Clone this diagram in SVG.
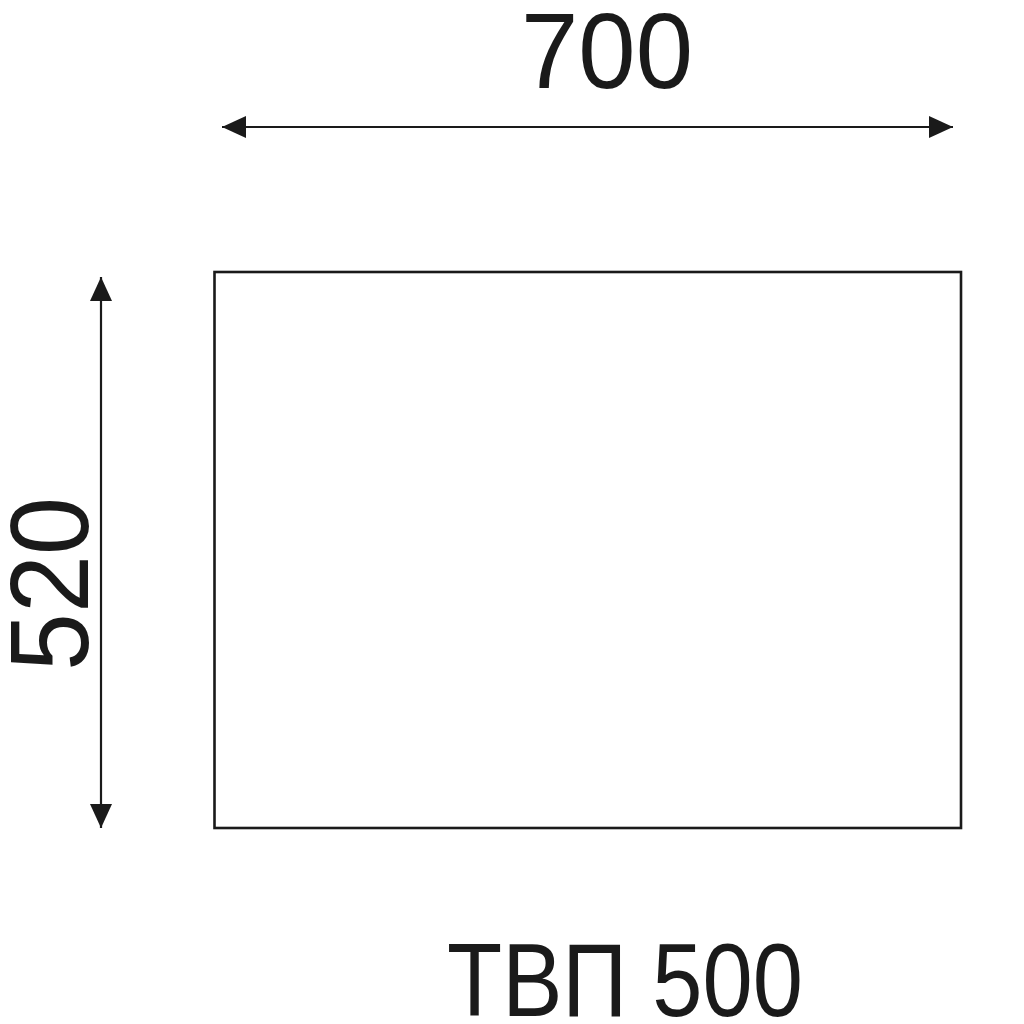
<svg xmlns="http://www.w3.org/2000/svg" width="1024" height="1024" viewBox="0 0 1024 1024">
<style>
.dim{stroke:#1a1a1a;stroke-width:2.2;fill:none}
.lbl{font-family:"Liberation Sans",Arial,sans-serif;fill:#1a1a1a;text-anchor:middle}
</style>
<defs>
<marker id="ah" viewBox="0 0 24 22" refX="24" refY="11" markerWidth="24" markerHeight="22" markerUnits="userSpaceOnUse" orient="auto-start-reverse">
<path d="M0,0 L24,11 L0,22 Z" fill="#1a1a1a"/>
</marker>
</defs>
<rect width="1024" height="1024" fill="#fff"/>
<g id="panel">
<rect x="214.5" y="272" width="746.5" height="556" fill="none" stroke="#1a1a1a" stroke-width="2.6"/>
</g>
<g id="connectors">
<line class="dim" x1="222" y1="127" x2="953" y2="127" marker-start="url(#ah)" marker-end="url(#ah)"/>
<line class="dim" x1="101" y1="277" x2="101" y2="828" marker-start="url(#ah)" marker-end="url(#ah)"/>
</g>
<g id="label-width"><text class="lbl" x="607" y="88" font-size="108" textLength="172" lengthAdjust="spacingAndGlyphs">700</text></g>
<g id="label-height"><text class="lbl" x="0" y="0" font-size="112" textLength="174" lengthAdjust="spacingAndGlyphs" transform="translate(88,584) rotate(-90)">520</text></g>
<g id="label-title"><text class="lbl" x="625" y="1016" font-size="104" textLength="356" lengthAdjust="spacingAndGlyphs">ТВП 500</text></g>
</svg>
